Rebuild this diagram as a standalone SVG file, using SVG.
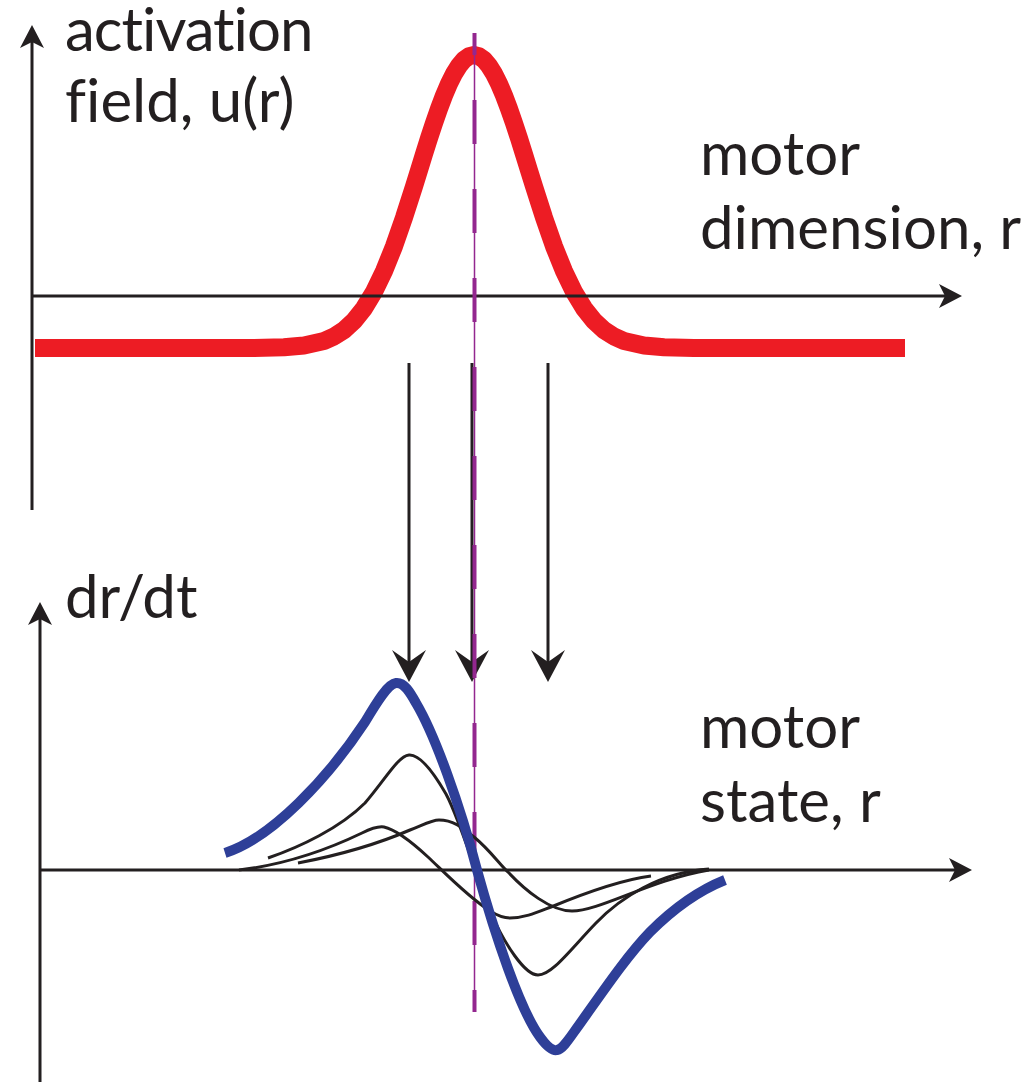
<svg xmlns="http://www.w3.org/2000/svg" width="1023" height="1082" viewBox="0 0 1023 1082">
<style>
.ax{stroke:#231f20;stroke-width:3;fill:none}
.sh{stroke:#231f20;stroke-width:3;fill:none}
.lbl{font-family:Lato,"Open Sans","Liberation Sans",sans-serif;font-size:60px;fill:#231f20;font-variant-ligatures:none}
.red{stroke:#ed1c24;stroke-width:18;fill:none;stroke-linejoin:round}
.blue{stroke:#2e3f98;stroke-width:10;fill:none;stroke-linejoin:round}
.thin{stroke:#231f20;stroke-width:3;fill:none}
</style>
<defs>
<marker id="axh" markerUnits="userSpaceOnUse" orient="auto" markerWidth="1" markerHeight="1" refX="0" refY="0" overflow="visible">
<path d="M17,0 L-6,-12 L0,0 L-6,12 Z" fill="#231f20"/>
</marker>
<marker id="bigh" markerUnits="userSpaceOnUse" orient="auto" markerWidth="1" markerHeight="1" refX="0" refY="0" overflow="visible">
<path d="M20,0 L-12,-17 L0,0 L-12,17 Z" fill="#231f20"/>
</marker>
</defs>
<rect width="1023" height="1082" fill="#fff"/>

<g id="top-plot">
<path class="red" d="M35,348 L254,348 L284,347.3 L304,345.5 L324,340.9 L334,336.5 L344,330.1 L354,320.9 L364,308.3 L374,291.9 L384,271.2 L394,246.3 L404,217.6 L414,186.4 L419,170.3 L424,154.2 L429,138.3 L434,123.1 L439,108.7 L444,95.5 L449,83.7 L454,73.7 L459,65.7 L464,59.8 L469,56.2 L474,55 L479,56.2 L484,59.8 L489,65.7 L494,73.7 L499,83.7 L504,95.5 L509,108.7 L514,123.1 L519,138.3 L524,154.2 L529,170.3 L534,186.4 L544,217.6 L554,246.3 L564,271.2 L574,291.9 L584,308.3 L594,320.9 L604,330.1 L614,336.5 L624,340.9 L644,345.5 L664,347.3 L694,348 L905,348"/>
<line class="ax" x1="32" y1="510" x2="32" y2="42" marker-end="url(#axh)"/>
<line class="ax" x1="32" y1="296" x2="945" y2="296" marker-end="url(#axh)"/>
</g>

<g id="bottom-axes">
<line class="ax" x1="40" y1="1082" x2="40" y2="619" marker-end="url(#axh)"/>
<line class="ax" x1="40" y1="870" x2="955" y2="870" marker-end="url(#axh)"/>
</g>

<g id="connectors">
<line class="sh" x1="409" y1="363" x2="409" y2="662" marker-end="url(#bigh)"/>
<line class="sh" x1="472" y1="363" x2="472" y2="662" marker-end="url(#bigh)"/>
<line class="sh" x1="548" y1="363" x2="548" y2="662" marker-end="url(#bigh)"/>
</g>

<g id="midline">
<line x1="474.5" y1="33" x2="474.5" y2="1012" stroke="#93278f" stroke-width="1.5"/>
<line x1="474.5" y1="33" x2="474.5" y2="1012" stroke="#93278f" stroke-width="4" stroke-dasharray="44 45" stroke-dashoffset="22"/>
</g>

<g id="bottom-curves">
<path class="thin" d="M268,858 C300,847 340,828 365,803 C385,780 398,756 409,755 C420,754 435,775 446,794 C460,820 478,880 491,913 C505,945 525,975 538,975 C552,975 570,950 596,923 C620,898 660,872 709,869"/>
<path class="thin" d="M239,870 C290,864 335,846 362,833 C372,828 378,826 384,827 C398,830 415,845 428,857 C445,873 468,897 490,911 C498,916 504,918 510,918 C525,918 538,912 551,907 C580,895 620,880 651,876"/>
<path class="thin" d="M298,863 C340,855 380,843 410,830 C425,824 432,820 439,820 C455,820 465,830 474,837 C490,850 500,865 509,873 C525,890 550,911 572,911 C600,911 650,880 709,870"/>
<path class="blue" d="M225,853 C272,838 328,778 365,722 C378,700 388,684 396,683 C404,682 410,692 416,703 C435,735 460,805 477,870 C495,935 520,1010 540,1037 C548,1048 553,1051 557,1050 C562,1049 567,1042 574,1032 C600,996 625,958 650,932 C675,907 700,890 725,880"/>
</g>

<g id="labels">
<text class="lbl" x="65" y="51" letter-spacing="-1">activation</text>
<text class="lbl" x="65" y="122">field, u(r)</text>
<text class="lbl" x="700" y="175">motor</text>
<text class="lbl" x="700" y="249">dimension, r</text>
<text class="lbl" x="65" y="618">dr/dt</text>
<text class="lbl" x="700" y="748">motor</text>
<text class="lbl" x="700" y="822">state, r</text>
</g>
</svg>
